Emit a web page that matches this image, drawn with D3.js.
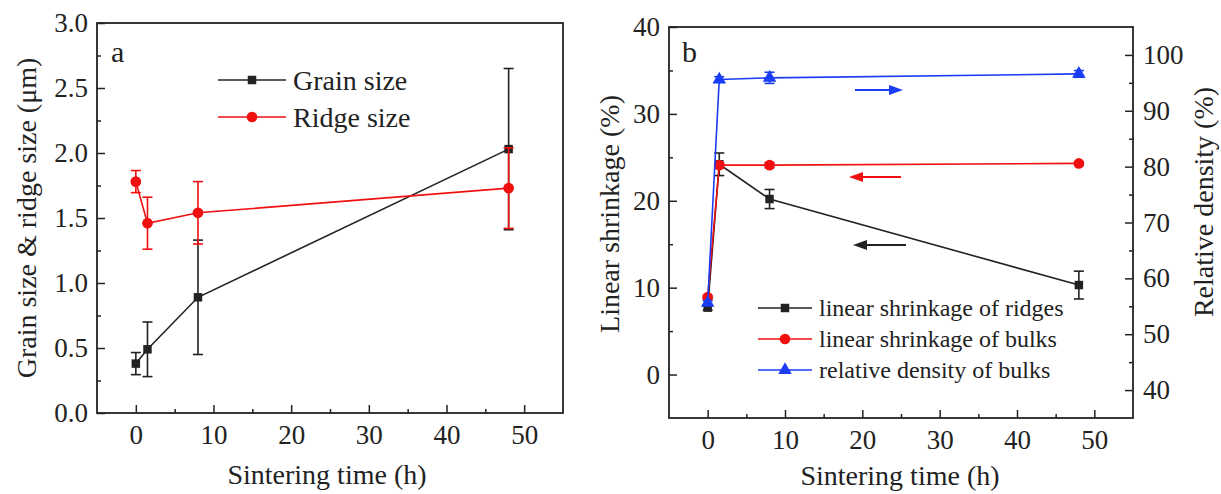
<!DOCTYPE html>
<html>
<head>
<meta charset="utf-8">
<script src="https://cdn.jsdelivr.net/npm/d3@7"></script>
<style>
  body { margin: 0; background: #fff; }
  svg { display: block; font-family: "Liberation Serif", "Times New Roman", serif; }
</style>
</head>
<body>
<svg id="chart" width="1221" height="494"></svg>
<script>
// Panel a: grain / ridge size vs sintering time
const timeA = [0, 1.5, 8, 48];
const grainSize = [0.38, 0.49, 0.89, 2.03];
const grainErr = [0.085, 0.21, 0.44, 0.62];
const ridgeSize = [1.78, 1.46, 1.54, 1.73];
const ridgeErr = [0.085, 0.2, 0.24, 0.31];
const ticksAx = [0, 10, 20, 30, 40, 50];
const ticksAy = [0, 0.5, 1, 1.5, 2, 2.5, 3];

// Panel b: shrinkage and density vs sintering time
const timeB = [0, 1.5, 8, 48];
const ridgeShrink = [7.7, 24.2, 20.2, 10.3];
const ridgeShrinkErr = [0.3, 1.3, 1.1, 1.6];
const bulkShrink = [8.9, 24.1, 24.1, 24.3];
const bulkShrinkErr = [0.2, 0.3, 0.3, 0.2];
const relDensity = [55.6, 95.6, 95.9, 96.6];
const relDensityErr = [0.4, 0.5, 1.0, 0.6];
const ticksBx = [0, 10, 20, 30, 40, 50];
const ticksBy = [0, 10, 20, 30, 40];
const ticksBy2 = [40, 50, 60, 70, 80, 90, 100];

const INK = '#222';
const RED = '#f01010';
const BLUE = '#1a3cf5';
const svg = d3.select('#chart');

function styleAx(sel, size) {
    sel.select('.domain').remove();
    sel.selectAll('line').attr('stroke', INK).attr('stroke-width', 1.5);
    sel.selectAll('text').attr('fill', INK).style('font-size', size + 'px')
        .style('font-family', '"Liberation Serif", serif');
}

function frame(g, x, y, w, h) {
    g.append('rect').attr('x', x).attr('y', y).attr('width', w).attr('height', h)
        .attr('fill', 'none').attr('stroke', INK).attr('stroke-width', 1.8);
}

function minor(vals, step) {
    return vals.slice(0, -1).map((v) => v + step / 2);
}

function series(g, x, y, xs, ys, errs, color, shape) {
    const line = d3.line().x((d) => x(d[0])).y((d) => y(d[1]));
    const pts = xs.map((t, i) => [t, ys[i], errs[i]]);
    g.append('path').datum(pts).attr('d', line)
        .attr('fill', 'none').attr('stroke', color).attr('stroke-width', 1.6);
    const eb = g.append('g').attr('stroke', color).attr('stroke-width', 1.6);
    pts.forEach((p) => {
        const cx = x(p[0]), y1 = y(p[1] - p[2]), y2 = y(p[1] + p[2]);
        eb.append('line').attr('x1', cx).attr('x2', cx).attr('y1', y1).attr('y2', y2);
        eb.append('line').attr('x1', cx - 5).attr('x2', cx + 5).attr('y1', y1).attr('y2', y1);
        eb.append('line').attr('x1', cx - 5).attr('x2', cx + 5).attr('y1', y2).attr('y2', y2);
    });
    g.selectAll(null).data(pts).enter().append('path')
        .attr('transform', (p) => `translate(${x(p[0])},${y(p[1])})`)
        .attr('d', marker(shape))
        .attr('fill', color);
}

function marker(shape) {
    if (shape === 'square') return d3.symbol(d3.symbolSquare, 72)();
    if (shape === 'circle') return d3.symbol(d3.symbolCircle, 90)();
    return d3.symbol(d3.symbolTriangle, 80)();
}

function legendRow(g, x0, x1, y, color, shape, label, size) {
    g.append('line').attr('x1', x0).attr('x2', x1).attr('y1', y).attr('y2', y)
        .attr('stroke', color).attr('stroke-width', 1.6);
    g.append('path').attr('transform', `translate(${(x0 + x1) / 2},${y})`)
        .attr('d', marker(shape)).attr('fill', color);
    g.append('text').attr('x', x1 + 7).attr('y', y).attr('dy', '0.35em')
        .attr('fill', INK).style('font-size', size + 'px').text(label);
}

function arrow(g, xFrom, xTo, y, color) {
    const dir = Math.sign(xTo - xFrom);
    g.append('line').attr('x1', xFrom).attr('x2', xTo - dir * 10).attr('y1', y).attr('y2', y)
        .attr('stroke', color).attr('stroke-width', 2);
    g.append('path')
        .attr('d', `M${xTo},${y}L${xTo - dir * 14},${y - 5}L${xTo - dir * 14},${y + 5}Z`)
        .attr('fill', color);
}

// ---------- Panel a ----------
{
    const L = 97, T = 23, R = 563, B = 413;
    const x = d3.scaleLinear().domain([-5, 55]).range([L, R]);
    const y = d3.scaleLinear().domain([0, 3]).range([B, T]);
    const g = svg.append('g');

    g.append('g').attr('transform', `translate(0,${B})`)
        .call(d3.axisBottom(x).tickValues(minor(ticksAx, 10)).tickSize(-4).tickFormat(''))
        .call(styleAx, 27);
    g.append('g').attr('transform', `translate(0,${B})`)
        .call(d3.axisBottom(x).tickValues(ticksAx).tickSize(-8).tickPadding(12).tickFormat(d3.format('d')))
        .call(styleAx, 27);
    g.append('g').attr('transform', `translate(${L},0)`)
        .call(d3.axisLeft(y).tickValues(minor(ticksAy, 0.5)).tickSize(-4).tickFormat(''))
        .call(styleAx, 27);
    g.append('g').attr('transform', `translate(${L},0)`)
        .call(d3.axisLeft(y).tickValues(ticksAy).tickSize(-8).tickPadding(9).tickFormat(d3.format('.1f')))
        .call(styleAx, 27);
    frame(g, L, T, R - L, B - T);

    series(g, x, y, timeA, grainSize, grainErr, INK, 'square');
    series(g, x, y, timeA, ridgeSize, ridgeErr, RED, 'circle');

    legendRow(g, 218, 286, 80, INK, 'square', 'Grain size', 28);
    legendRow(g, 218, 286, 117, RED, 'circle', 'Ridge size', 28);

    g.append('text').attr('x', 111).attr('y', 62).attr('fill', INK)
        .style('font-size', '30px').text('a');
    g.append('text').attr('transform', `translate(36,${(T + B) / 2}) rotate(-90)`)
        .attr('text-anchor', 'middle').attr('fill', INK).style('font-size', '28px')
        .text('Grain size & ridge size (μm)');
    g.append('text').attr('x', 327).attr('y', 484).attr('text-anchor', 'middle')
        .attr('fill', INK).style('font-size', '28px').text('Sintering time (h)');
}

// ---------- Panel b ----------
{
    const L = 669, T = 27, R = 1133, B = 418;
    const x = d3.scaleLinear().domain([-5, 55]).range([L, R]);
    const y = d3.scaleLinear().domain([-5, 40]).range([B, T]);
    const y2 = d3.scaleLinear().domain([35, 105]).range([B, T]);
    const g = svg.append('g');

    g.append('g').attr('transform', `translate(0,${B})`)
        .call(d3.axisBottom(x).tickValues(minor(ticksBx, 10)).tickSize(-4).tickFormat(''))
        .call(styleAx, 27);
    g.append('g').attr('transform', `translate(0,${B})`)
        .call(d3.axisBottom(x).tickValues(ticksBx).tickSize(-8).tickPadding(12).tickFormat(d3.format('d')))
        .call(styleAx, 27);
    g.append('g').attr('transform', `translate(${L},0)`)
        .call(d3.axisLeft(y).tickValues(minor(ticksBy, 10)).tickSize(-4).tickFormat(''))
        .call(styleAx, 27);
    g.append('g').attr('transform', `translate(${L},0)`)
        .call(d3.axisLeft(y).tickValues(ticksBy).tickSize(-8).tickPadding(9).tickFormat(d3.format('d')))
        .call(styleAx, 27);
    g.append('g').attr('transform', `translate(${R},0)`)
        .call(d3.axisRight(y2).tickValues([45, 55, 65, 75, 85, 95]).tickSize(-4).tickFormat(''))
        .call(styleAx, 27);
    g.append('g').attr('transform', `translate(${R},0)`)
        .call(d3.axisRight(y2).tickValues(ticksBy2).tickSize(-8).tickPadding(10).tickFormat(d3.format('d')))
        .call(styleAx, 27);
    frame(g, L, T, R - L, B - T);

    series(g, x, y, timeB, ridgeShrink, ridgeShrinkErr, INK, 'square');
    series(g, x, y, timeB, bulkShrink, bulkShrinkErr, RED, 'circle');
    series(g, x, y2, timeB, relDensity, relDensityErr, BLUE, 'triangle');

    arrow(g, 855, 903, 90, BLUE);
    arrow(g, 901, 849, 177, RED);
    arrow(g, 906, 853, 245, INK);

    legendRow(g, 758, 812, 308, INK, 'square', 'linear shrinkage of ridges', 24);
    legendRow(g, 758, 812, 339, RED, 'circle', 'linear shrinkage of bulks', 24);
    legendRow(g, 758, 812, 370, BLUE, 'triangle', 'relative density of bulks', 24);

    g.append('text').attr('x', 682).attr('y', 62).attr('fill', INK)
        .style('font-size', '30px').text('b');
    g.append('text').attr('transform', `translate(619,214) rotate(-90)`)
        .attr('text-anchor', 'middle').attr('fill', INK).style('font-size', '28px')
        .text('Linear shrinkage (%)');
    g.append('text').attr('transform', `translate(1213,202) rotate(-90)`)
        .attr('text-anchor', 'middle').attr('fill', INK).style('font-size', '28px')
        .text('Relative density (%)');
    g.append('text').attr('x', 900).attr('y', 485).attr('text-anchor', 'middle')
        .attr('fill', INK).style('font-size', '28px').text('Sintering time (h)');
}
</script>
</body>
</html>
